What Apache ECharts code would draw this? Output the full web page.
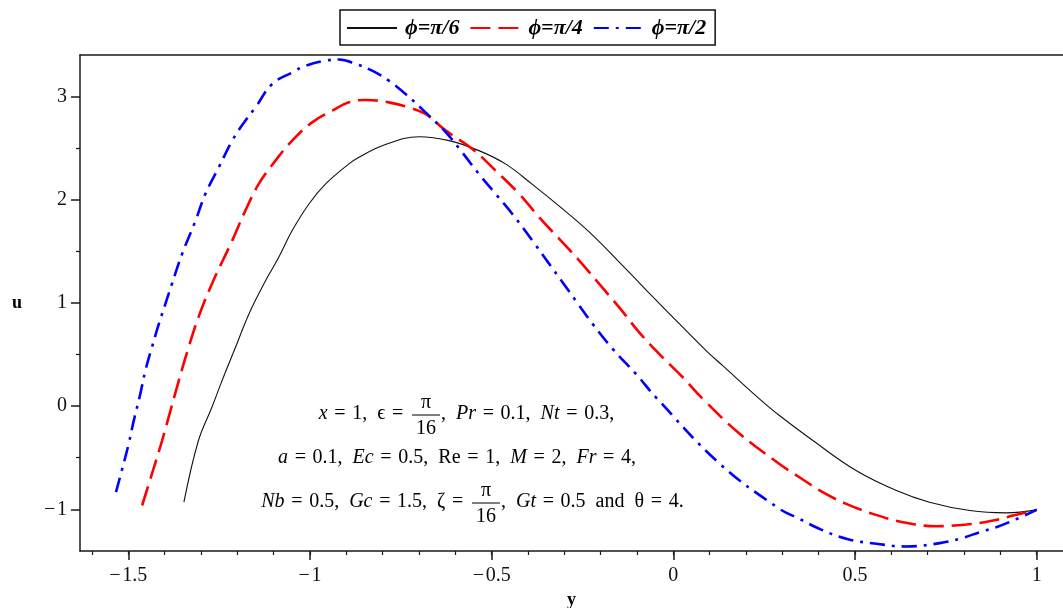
<!DOCTYPE html>
<html>
<head>
<meta charset="utf-8">
<script src="https://cdn.jsdelivr.net/npm/echarts@6/dist/echarts.min.js"></script>
<style>
html,body{margin:0;padding:0;background:#fff;}
#chart{width:1063px;height:608px;}
</style>
</head>
<body>
<div id="chart"></div>
<script>
// ---- data ----
const seriesNames = ['ϕ=π/6', 'ϕ=π/4', 'ϕ=π/2'];
const xTickValues = [-1.5, -1, -0.5, 0, 0.5, 1];
const yTickValues = [-1, 0, 1, 2, 3];
const yMinorTicks = [-0.5, 0.5, 1.5, 2.5];

// phi = pi/6 (black, solid)  [y, u]
const phi6 = [
  [-1.347,-0.931],[-1.307,-0.333],[-1.270,-0.011],[-1.242,0.248],[-1.205,0.571],
  [-1.168,0.894],[-1.122,1.217],[-1.086,1.443],[-1.049,1.702],[-1.003,1.960],
  [-0.957,2.154],[-0.893,2.348],[-0.865,2.412],[-0.801,2.525],[-0.700,2.612],
  [-0.617,2.574],[-0.535,2.477],[-0.461,2.346],[-0.388,2.150],[-0.314,1.939],
  [-0.231,1.687],[-0.130,1.328],[-0.057,1.062],[0.017,0.797],
  [0.090,0.539],[0.136,0.393],[0.237,0.071],[0.292,-0.091],[0.384,-0.333],
  [0.503,-0.624],[0.614,-0.818],[0.705,-0.931],[0.816,-1.012],[0.917,-1.034],
  [1.000,-1.005]
];
// phi = pi/4 (red, dashed)
const phi4 = [
  [-1.462,-0.963],[-1.435,-0.656],[-1.407,-0.333],[-1.384,-0.043],[-1.361,0.248],
  [-1.334,0.571],[-1.307,0.861],[-1.270,1.185],[-1.214,1.605],[-1.178,1.895],
  [-1.141,2.154],[-1.095,2.380],[-1.049,2.574],[-0.994,2.751],[-0.939,2.864],
  [-0.893,2.945],[-0.847,2.968],[-0.783,2.945],[-0.728,2.896],[-0.682,2.832],
  [-0.626,2.671],[-0.553,2.493],[-0.489,2.283],[-0.424,2.057],[-0.369,1.830],
  [-0.314,1.621],[-0.259,1.411],[-0.204,1.185],[-0.149,0.958],[-0.094,0.716],
  [-0.039,0.507],[0.026,0.280],[0.081,0.071],[0.180,-0.260],[0.292,-0.560],
  [0.347,-0.689],[0.411,-0.834],[0.476,-0.947],[0.549,-1.044],[0.632,-1.125],
  [0.724,-1.164],[0.807,-1.147],[0.880,-1.109],[0.935,-1.060],[1.000,-1.005]
];
// phi = pi/2 (blue, dash-dot)
const phi2 = [
  [-1.534,-0.834],[-1.518,-0.624],[-1.499,-0.365],[-1.485,-0.140],[-1.467,0.119],
  [-1.453,0.345],[-1.435,0.571],[-1.416,0.797],[-1.398,0.991],[-1.380,1.185],
  [-1.352,1.476],[-1.315,1.798],[-1.288,2.057],[-1.251,2.315],[-1.214,2.574],
  [-1.178,2.767],[-1.150,2.896],[-1.104,3.123],[-1.049,3.235],[-1.012,3.300],
  [-0.957,3.349],[-0.920,3.360],[-0.874,3.317],[-0.829,3.252],[-0.783,3.155],
  [-0.737,3.026],[-0.682,2.848],[-0.626,2.654],[-0.581,2.460],[-0.535,2.251],
  [-0.489,2.057],[-0.443,1.863],[-0.388,1.605],[-0.305,1.201],[-0.268,1.020],
  [-0.222,0.797],[-0.167,0.555],[-0.103,0.313],[-0.048,0.086],[0.127,-0.556],
  [0.292,-0.995],[0.347,-1.092],[0.402,-1.189],[0.476,-1.286],[0.559,-1.334],
  [0.641,-1.360],[0.733,-1.328],[0.797,-1.276],[0.843,-1.222],[0.889,-1.173],
  [0.935,-1.109],[1.000,-1.005]
];

// ---- chart ----
const xMinor = [];
for (let i = -16; i <= 10; i++) xMinor.push(+(i / 10).toFixed(1));

const SERIF = '"Liberation Serif", "DejaVu Serif", serif';
const fmt = v => (v < 0 ? '\u2212\u200a' + Math.abs(v) : String(v));
const axisLineStyle = { color: '#1a1a1a', width: 1.5 };
const XMIN = -1.633, XMAX = 1.0725, YMIN = -1.404, YMAX = 3.404;
const S = '\u2004', C = '\u2002';   // wide spaces used by the math typesetting
const FS = 20;
const rich = { i: { fontStyle: 'italic', fontFamily: SERIF, fontSize: FS } };
function txt(x, y, text, align) {
  return { type: 'text', x: x, y: y, style: { text: text, rich: rich, fontFamily: SERIF, fontSize: FS, fill: '#000', align: align, verticalAlign: 'middle' } };
}

const chart = echarts.init(document.getElementById('chart'), null, { renderer: 'canvas' });

const option = {
  animation: false,
  backgroundColor: '#fff',
  grid: { left: 80, right: 0, top: 55, bottom: 57, containLabel: false, outerBoundsMode: 'none' },
  legend: {
    data: seriesNames,
    left: 340, top: 10,
    itemWidth: 50, itemHeight: 14, itemGap: 10,
    padding: [7, 9, 6, 6],
    borderColor: '#111', borderWidth: 1.5,
    itemStyle: { opacity: 0 },
    textStyle: { fontFamily: SERIF, fontSize: 22, fontStyle: 'italic', fontWeight: 'bold', color: '#000', padding: [0, 0, 0, 3] }
  },
  xAxis: [
    {
      type: 'value', min: XMIN, max: XMAX, position: 'bottom',
      name: 'y', nameLocation: 'middle', nameGap: 37,
      nameTextStyle: { fontFamily: SERIF, fontSize: 18, fontWeight: 'bold', color: '#000' },
      axisLine: { show: true, onZero: false, lineStyle: axisLineStyle },
      axisTick: { show: true, inside: false, length: 9, customValues: xTickValues, lineStyle: { color: '#1a1a1a', width: 1.5 } },
      axisLabel: { show: true, customValues: xTickValues, margin: 15, formatter: fmt, fontFamily: SERIF, fontSize: 20, color: '#111' },
      splitLine: { show: false }
    },
    {
      type: 'value', min: XMIN, max: XMAX, position: 'bottom', gridIndex: 0,
      axisLine: { show: false, onZero: false },
      axisTick: { show: true, length: 4, customValues: xMinor, lineStyle: { color: '#1a1a1a', width: 1.2 } },
      axisLabel: { show: false },
      splitLine: { show: false }
    },
    {
      type: 'value', min: XMIN, max: XMAX, position: 'top', gridIndex: 0,
      axisLine: { show: true, onZero: false, lineStyle: axisLineStyle },
      axisTick: { show: false }, axisLabel: { show: false }, splitLine: { show: false }
    }
  ],
  yAxis: [
    {
      type: 'value', min: YMIN, max: YMAX, position: 'left',
      name: 'u', nameLocation: 'middle', nameGap: 58, nameRotate: 0,
      nameTextStyle: { fontFamily: SERIF, fontSize: 18, fontWeight: 'bold', color: '#000' },
      axisLine: { show: true, onZero: false, lineStyle: axisLineStyle },
      axisTick: { show: true, length: 9, customValues: yTickValues, lineStyle: { color: '#1a1a1a', width: 1.5 } },
      axisLabel: { show: true, customValues: yTickValues, margin: 13, formatter: fmt, fontFamily: SERIF, fontSize: 20, color: '#111' },
      splitLine: { show: false }
    },
    {
      type: 'value', min: YMIN, max: YMAX, position: 'left',
      axisLine: { show: false, onZero: false },
      axisTick: { show: true, length: 4, customValues: yMinorTicks, lineStyle: { color: '#1a1a1a', width: 1.2 } },
      axisLabel: { show: false },
      splitLine: { show: false }
    }
  ],
  series: [
    {
      name: seriesNames[0], type: 'line', data: phi6, showSymbol: false, symbol: 'none', smooth: 0.4,
      lineStyle: { color: '#111', width: 1.1, type: 'solid' }, itemStyle: { color: '#111', opacity: 0 }
    },
    {
      name: seriesNames[1], type: 'line', data: phi4, showSymbol: false, symbol: 'none', smooth: 0.4,
      lineStyle: { color: '#ff0000', width: 2.6, type: [20, 8] }, itemStyle: { color: '#ff0000', opacity: 0 }
    },
    {
      name: seriesNames[2], type: 'line', data: phi2, showSymbol: false, symbol: 'none', smooth: 0.4,
      lineStyle: { color: '#0000ff', width: 2.6, type: [15, 7, 3, 7] }, itemStyle: { color: '#0000ff', opacity: 0 }
    }
  ],
  graphic: [
    // line 1
    txt(410, 414, '{i|x}' + S + '=' + S + '1,' + C + 'ϵ' + S + '=' + S, 'right'),
    txt(426, 403, 'π', 'center'),
    { type: 'line', shape: { x1: 412, y1: 415, x2: 440, y2: 415 }, style: { stroke: '#000', lineWidth: 1 } },
    txt(426, 429, '16', 'center'),
    txt(441, 414, ',' + C + '{i|Pr}' + S + '=' + S + '0.1,' + C + '{i|Nt}' + S + '=' + S + '0.3,', 'left'),
    // line 2
    txt(457, 458, '{i|a}' + S + '=' + S + '0.1,' + C + '{i|Ec}' + S + '=' + S + '0.5,' + C + 'Re' + S + '=' + S + '1,' + C + '{i|M}' + S + '=' + S + '2,' + C + '{i|Fr}' + S + '=' + S + '4,', 'center'),
    // line 3
    txt(470, 502, '{i|Nb}' + S + '=' + S + '0.5,' + C + '{i|Gc}' + S + '=' + S + '1.5,' + C + 'ζ' + S + '=' + S, 'right'),
    txt(486, 491, 'π', 'center'),
    { type: 'line', shape: { x1: 472, y1: 503, x2: 500, y2: 503 }, style: { stroke: '#000', lineWidth: 1 } },
    txt(486, 517, '16', 'center'),
    txt(501, 502, ',' + C + '{i|Gt}' + S + '=' + S + '0.5' + C + 'and' + C + 'θ' + S + '=' + S + '4.', 'left')
  ]
};
chart.setOption(option);
</script>
</body>
</html>
